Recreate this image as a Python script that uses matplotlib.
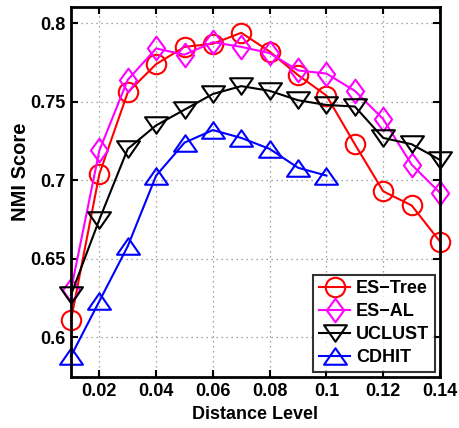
import matplotlib
matplotlib.use("Agg")
import matplotlib.pyplot as plt
from matplotlib.path import Path
import numpy as np

plt.rcParams['font.family'] = ['Liberation Sans', 'DejaVu Sans']
plt.rcParams['font.weight'] = 'bold'

x_all = [0.01, 0.02, 0.03, 0.04, 0.05, 0.06, 0.07, 0.08, 0.09, 0.10, 0.11, 0.12, 0.13, 0.14]
x_cdhit = [0.01, 0.02, 0.03, 0.04, 0.05, 0.06, 0.07, 0.08, 0.09, 0.10]

es_tree = [0.611, 0.704, 0.756, 0.774, 0.785, 0.787, 0.794, 0.782, 0.767, 0.754, 0.723, 0.693, 0.684, 0.661]
es_al = [0.630, 0.719, 0.764, 0.784, 0.780, 0.788, 0.785, 0.781, 0.770, 0.768, 0.757, 0.739, 0.710, 0.692]
uclust = [0.627, 0.675, 0.720, 0.735, 0.745, 0.755, 0.760, 0.757, 0.751, 0.748, 0.747, 0.727, 0.723, 0.713]
cdhit = [0.588, 0.623, 0.658, 0.703, 0.724, 0.732, 0.727, 0.720, 0.708, 0.703]

series_names = ['ES\u2212Tree', 'ES\u2212AL', 'UCLUST', 'CDHIT']
xticks = [0.02, 0.04, 0.06, 0.08, 0.10, 0.12, 0.14]
xtick_labels = ['0.02', '0.04', '0.06', '0.08', '0.1', '0.12', '0.14']
yticks = [0.6, 0.65, 0.7, 0.75, 0.8]
ytick_labels = ['0.6', '0.65', '0.7', '0.75', '0.8']

diamond = Path([(0, 1), (0.73, 0), (0, -1), (-0.73, 0), (0, 1)],
               [Path.MOVETO, Path.LINETO, Path.LINETO, Path.LINETO, Path.CLOSEPOLY])
tri_down = Path([(-1, 0.72), (1, 0.72), (0, -0.72), (-1, 0.72)],
                [Path.MOVETO, Path.LINETO, Path.LINETO, Path.CLOSEPOLY])
tri_up = Path([(-1, -0.72), (1, -0.72), (0, 0.72), (-1, -0.72)],
              [Path.MOVETO, Path.LINETO, Path.LINETO, Path.CLOSEPOLY])

fig = plt.figure(figsize=(4.6, 4.28), dpi=100)
ax = fig.add_axes([0.1543, 0.1192, 0.8022, 0.8644])

kw = dict(linewidth=1.5, markerfacecolor='none', markeredgewidth=1.5, clip_on=False)
ax.plot(x_all, es_tree, color='#ff0000', marker='o', markersize=14, label=series_names[0], **kw)
ax.plot(x_all, es_al, color='#ff00ff', marker=diamond, markersize=17, label=series_names[1], **kw)
ax.plot(x_all, uclust, color='#000000', marker=tri_down, markersize=16.5, label=series_names[2], **kw)
ax.plot(x_cdhit, cdhit, color='#0000ff', marker=tri_up, markersize=16.5, label=series_names[3], **kw)

ax.set_xlim(0.01, 0.14)
ax.set_ylim(0.5747, 0.8104)
ax.set_xticks(xticks)
ax.set_xticklabels(xtick_labels)
ax.set_yticks(yticks)
ax.set_yticklabels(ytick_labels)
ax.tick_params(direction='in', top=True, right=True, labelsize=13, width=1.5, length=5, pad=4)
for s in ax.spines.values():
    s.set_linewidth(2)
    s.set_zorder(3)
ax.grid(True, linestyle=(0, (1, 3)), color='#888888', linewidth=0.9)

ax.set_xlabel('Distance Level', fontsize=13, fontweight='bold', labelpad=5)
ax.set_ylabel('NMI Score', fontsize=14.5, fontweight='bold')
ax.yaxis.set_label_coords(-0.11, 0.554)

leg = ax.legend(loc='lower right', fontsize=13, frameon=True, fancybox=False,
                edgecolor='black', handlelength=1.75, handletextpad=0.3,
                borderpad=0.3, labelspacing=0.33, borderaxespad=0.3)
leg.get_frame().set_linewidth(1.5)
leg.set_zorder(5)
for t in leg.get_texts():
    t.set_fontweight('bold')

fig.savefig('out.png', dpi=100)
